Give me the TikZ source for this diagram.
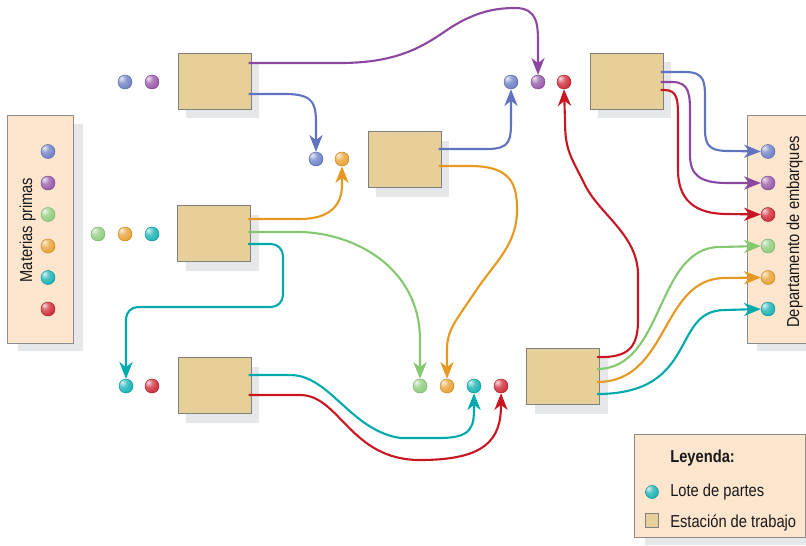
\documentclass[tikz,border=0pt]{standalone}
\usepackage{fontspec}
\newfontfamily\condfont{Liberation Sans}[FakeStretch=0.85]
\usetikzlibrary{arrows.meta,shadows,calc}
\definecolor{azul}{RGB}{95,115,192}
\definecolor{morado}{RGB}{140,72,160}
\definecolor{rojo}{RGB}{200,22,35}
\definecolor{verde}{RGB}{132,200,112}
\definecolor{naranja}{RGB}{230,152,32}
\definecolor{turq}{RGB}{0,170,172}
\definecolor{estacion}{RGB}{230,207,152}
\definecolor{panelclr}{RGB}{253,229,206}
\definecolor{sombra}{RGB}{230,231,233}
\colorlet{lotecol}{gray}
\pgfdeclareradialshading[lotecol]{lote}{\pgfpoint{-14bp}{14bp}}{%
  color(0bp)=(lotecol!15!white); color(16bp)=(lotecol!70!white);
  color(40bp)=(lotecol!95!white); color(62bp)=(lotecol!85!black);
  color(100bp)=(lotecol!70!black)}

\begin{document}
\begin{tikzpicture}[x=0.025cm, y=-0.025cm,
    station/.style={rectangle, draw=black!50, fill=estacion, line width=0.7pt,
      minimum width=1.825cm, minimum height=1.4cm,
      drop shadow={shadow xshift=0.21cm, shadow yshift=-0.23cm, fill=sombra, opacity=1}},
    panel/.style={rectangle, draw=black!45, fill=panelclr, line width=0.7pt,
      drop shadow={shadow xshift=0.25cm, shadow yshift=-0.2cm, fill=sombra, opacity=1}},
    lote/.style={circle, inner sep=0pt, minimum size=0.35cm,
      /utils/exec={\colorlet{lotecol}{#1}}, shading=lote, draw=#1!85!black, line width=0.3pt},
    flujo/.style={draw=#1, line width=1.5pt, -{Stealth[length=4.2mm,width=3.3mm,inset=1.3mm]}},
    rotulo/.style={font=\condfont\fontsize{12.3}{14}\selectfont, text=black!90, inner sep=0pt}]
  \useasboundingbox (0,0) rectangle (806,545);

  % paneles
  \node[panel, minimum width=1.625cm, minimum height=5.675cm] (mp) at (40.5,229.5) {};
  \node[panel, minimum width=1.625cm, minimum height=5.675cm] (de) at (779.5,229.5) {};
  \node[rotulo, rotate=90, anchor=base] (mptxt) at (32,230) {Materias primas};
  \node[rotulo, rotate=90, anchor=base] (detxt) at (799,232) {Departamento de embarques};
  \foreach \c [count=\i] in {azul,morado,verde,naranja,turq,rojo}
    \node[lote=\c] (mp\i) at (48,{120+31.5*\i}) {};
  \foreach \c [count=\i] in {azul,morado,rojo,verde,naranja,turq}
    \node[lote=\c] (de\i) at (768,{120+31.5*\i}) {};

  % estaciones de trabajo
  \node[station] (stA) at (214.5,81) {};
  \node[station] (stB) at (214,233.5) {};
  \node[station] (stC) at (214.5,385.5) {};
  \node[station] (stD) at (404.5,159.5) {};
  \node[station] (stE) at (563,376.5) {};
  \node[station] (stF) at (626.5,81) {};

  % lotes de partes
  \node[lote=azul] (azul0) at (125,82) {};
  \node[lote=morado] (morado0) at (152,82) {};
  \node[lote=verde] (verde0) at (98,234) {};
  \node[lote=naranja] (naranja0) at (125,234) {};
  \node[lote=turq] (turq0) at (152,234) {};
  \node[lote=turq] (turq1) at (126,386) {};
  \node[lote=rojo] (rojo0) at (152,386) {};
  \node[lote=azul] (azul1) at (316,159) {};
  \node[lote=naranja] (naranja1) at (342,159) {};
  \node[lote=azul] (azul2) at (511,82) {};
  \node[lote=morado] (morado1) at (538,82) {};
  \node[lote=rojo] (rojo1) at (564,82) {};
  \node[lote=verde] (verde1) at (420,386) {};
  \node[lote=naranja] (naranja2) at (447,386) {};
  \node[lote=turq] (turq2) at (474,386) {};
  \node[lote=rojo] (rojo2) at (501,386) {};

  % flujos
  \draw[flujo=morado] ($(stA.east)+(-3,-18)$) -- (340,63) .. controls (400,63) and (425,45) .. (450,28)
    .. controls (475,12) and (495,8) .. (515,8) .. controls (538,8) and (538,25) .. (538,45) -- (morado1.north);
  \draw[flujo=azul] ($(stA.east)+(-3,13)$) -- (285,94) .. controls (316,94) and (316,105) .. (316,128) -- (azul1.north);
  \draw[flujo=naranja] ($(stB.east)+(-3,-14.5)$) -- (300,219) .. controls (330,219) and (342,205) .. (342,185) -- (naranja1.south);
  \draw[flujo=verde] ($(stB.east)+(-3,-1.5)$) -- (300,232) .. controls (355,233) and (420,268) .. (420,340) -- (verde1.north);
  \draw[flujo=turq, rounded corners=0.3cm] ($(stB.east)+(-3,10.5)$) -- (283,244) -- (283,307) -- (126,307) -- (turq1.north);
  \draw[flujo=turq] ($(stC.east)+(-3,-10.5)$) -- (290,375) .. controls (330,375) and (350,430) .. (400,438)
    -- (440,438) .. controls (474,438) and (474,425) .. (474,405) -- (turq2.south);
  \draw[flujo=rojo] ($(stC.east)+(-3,9.5)$) -- (300,395) .. controls (340,395) and (350,460) .. (420,460)
    .. controls (485,460) and (501,440) .. (501,405) -- (rojo2.south);
  \draw[flujo=azul] ($(stD.east)+(-3,-10.5)$) -- (487,149) .. controls (511,149) and (511,140) .. (511,118) -- (azul2.south);
  \draw[flujo=naranja] ($(stD.east)+(-3,6.5)$) -- (470,166) .. controls (512,166) and (517,185) .. (517,210)
    .. controls (517,245) and (495,262) .. (475,292) .. controls (455,322) and (447,330) .. (447,350) -- (naranja2.north);
  \draw[flujo=rojo] ($(stE.east)+(-3,-19.5)$) -- (605,357) .. controls (630,356) and (638,345) .. (638,320)
    -- (638,275) .. controls (638,235) and (600,215) .. (585,185) .. controls (570,155) and (565,150) .. (565,120) -- (rojo1.south);
  \draw[flujo=verde] ($(stE.east)+(-3,-7.5)$) .. controls (665,369) and (655,247) .. (720,247) -- (de4.west);
  \draw[flujo=naranja] ($(stE.east)+(-3,5.5)$) .. controls (670,382) and (660,278) .. (725,278) -- (de5.west);
  \draw[flujo=turq] ($(stE.east)+(-3,17.5)$) .. controls (700,394) and (670,310) .. (725,310) -- (de6.west);
  \draw[flujo=azul] ($(stF.east)+(-3,-9)$) -- (685,72) .. controls (705,72) and (705,82) .. (705,100)
    -- (705,130) .. controls (705,148) and (712,151) .. (730,151) -- (de1.west);
  \draw[flujo=morado] ($(stF.east)+(-3,1)$) -- (672,82) .. controls (690,82) and (690,95) .. (690,115)
    -- (690,155) .. controls (690,175) and (700,183) .. (727,183) -- (de2.west);
  \draw[flujo=rojo] ($(stF.east)+(-3,9)$) -- (664,90) .. controls (678,90) and (678,100) .. (678,120)
    -- (678,170) .. controls (678,200) and (695,214) .. (727,214) -- (de3.west);

  % leyenda
  \node[panel, minimum width=4.25cm, minimum height=2.575cm] (ley) at (720,485.5) {};
  \node[rotulo, font=\condfont\bfseries\fontsize{12.3}{14}\selectfont, anchor=base west] (leytit) at (670,462) {Leyenda:};
  \node[lote=turq, minimum size=0.325cm] (leylote) at (652,492) {};
  \node[rectangle, draw=black!50, fill=estacion, line width=0.7pt, minimum width=0.325cm, minimum height=0.35cm] (leyest) at (651.5,520) {};
  \node[rotulo, anchor=base west] (leytxt1) at (670,496) {Lote de partes};
  \node[rotulo, anchor=base west] (leytxt2) at (670,527) {Estación de trabajo};
\end{tikzpicture}
\end{document}
